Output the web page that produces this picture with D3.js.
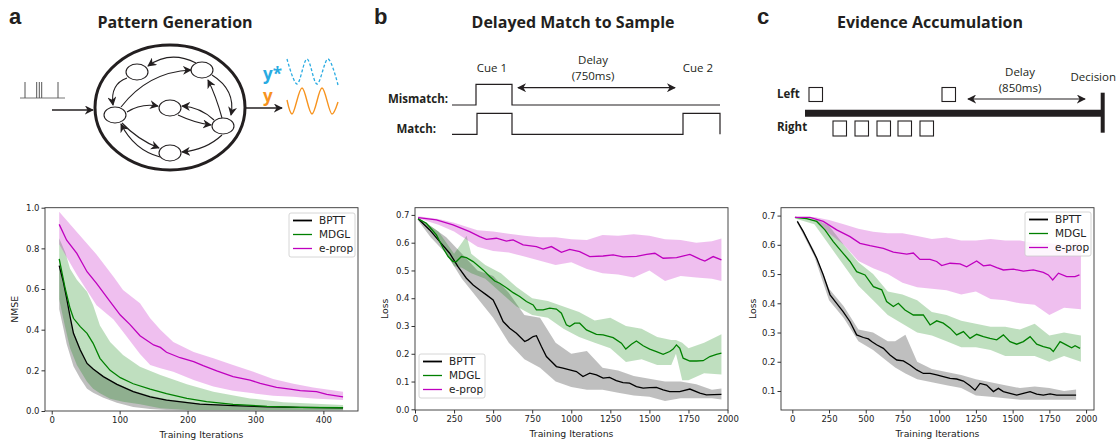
<!DOCTYPE html>
<html>
<head>
<meta charset="utf-8">
<script src="https://cdn.jsdelivr.net/npm/d3@7"></script>
<style>
  body { margin: 0; background: #fff; }
  svg { display: block; }
  .tick text { font-family: "DejaVu Sans", sans-serif; font-size: 8.5px; fill: #222; }
  .tick line { stroke: #333; }
  .lab { font-family: "DejaVu Sans", sans-serif; font-size: 9.3px; fill: #222; }
  .leg { font-family: "DejaVu Sans", sans-serif; font-size: 10.5px; fill: #222; }
  .ttl { font-family: "Open Sans", sans-serif; font-weight: 700; font-size: 16px; fill: #231f20; }
  .let { font-family: "Liberation Sans", sans-serif; font-weight: 700; font-size: 22px; fill: #231f20; }
  .sch { font-family: "Open Sans", sans-serif; font-size: 11.5px; fill: #231f20; }
  .schb { font-family: "Open Sans", sans-serif; font-weight: 700; font-size: 11.5px; fill: #231f20; }
</style>
</head>
<body>
<div id="container"></div>
<script>
//series names + colours
const names = ['BPTT', 'MDGL', 'e-prop']
const colors = ['#000000', '#008000', '#bf00bf']

//panel a: pattern generation (NMSE)
const aBptt = [[11,0.715],[17,0.636],[22,0.554],[27,0.464],[32,0.382],[42,0.30],[52,0.234],[61,0.207],[76,0.169],[96,0.131],[120,0.095],[145,0.07],[169,0.054],[218,0.034],[267,0.026],[317,0.021],[366,0.018],[429,0.015]]
const aMdgl = [[11,0.748],[20,0.60],[27,0.505],[32,0.456],[42,0.415],[52,0.382],[61,0.333],[71,0.259],[86,0.20],[101,0.164],[120,0.134],[145,0.108],[169,0.085],[199,0.062],[228,0.046],[267,0.033],[317,0.023],[366,0.018],[429,0.016]]
const aEprop = [[11,0.918],[22,0.84],[37,0.775],[52,0.685],[66,0.628],[86,0.538],[101,0.472],[115,0.426],[130,0.37],[150,0.325],[160,0.313],[169,0.289],[189,0.262],[209,0.243],[223,0.223],[243,0.197],[267,0.169],[292,0.152],[307,0.136],[331,0.116],[351,0.108],[366,0.10],[390,0.095],[405,0.082],[429,0.07]]
const aBpttBand = [[11,0.72,0.5],[17,0.64,0.41],[22,0.56,0.33],[32,0.39,0.22],[42,0.31,0.16],[52,0.24,0.11],[61,0.21,0.09],[76,0.17,0.065],[96,0.135,0.04],[120,0.1,0.02],[145,0.075,0.01],[169,0.058,0.005],[218,0.037,0.003],[267,0.028,0.003],[317,0.023,0.003],[366,0.02,0.003],[429,0.017,0.003]]
const aMdglBand = [[11,0.85,0.55],[20,0.78,0.41],[27,0.70,0.31],[37,0.645,0.226],[52,0.587,0.144],[61,0.52,0.11],[71,0.42,0.087],[86,0.34,0.06],[105,0.275,0.045],[130,0.218,0.033],[160,0.177,0.013],[199,0.131,0.005],[238,0.095,0.005],[292,0.062,0.005],[341,0.043,0.005],[429,0.03,0.005]]
const aEpropBand = [[11,0.98,0.82],[37,0.88,0.67],[66,0.77,0.52],[91,0.66,0.45],[105,0.595,0.39],[130,0.53,0.28],[145,0.456,0.226],[160,0.40,0.21],[179,0.34,0.193],[209,0.29,0.152],[238,0.26,0.12],[267,0.226,0.10],[297,0.193,0.087],[326,0.157,0.075],[356,0.134,0.07],[385,0.115,0.062],[429,0.095,0.054]]

//panel b: delayed match to sample (Loss)
const bBptt = [[20,0.686],[94,0.646],[158,0.604],[222,0.562],[275,0.514],[329,0.472],[372,0.448],[414,0.43],[457,0.412],[500,0.394],[531,0.358],[564,0.316],[606,0.292],[649,0.274],[702,0.244],[724,0.25],[756,0.262],[777,0.265],[809,0.226],[841,0.19],[873,0.172],[905,0.154],[947,0.148],[990,0.142],[1033,0.136],[1075,0.118],[1118,0.13],[1161,0.124],[1204,0.112],[1245,0.115],[1288,0.103],[1331,0.096],[1373,0.094],[1417,0.082],[1460,0.076],[1502,0.078],[1545,0.079],[1588,0.07],[1630,0.064],[1694,0.064],[1759,0.073],[1823,0.058],[1865,0.052],[1961,0.054]]
const bMdgl = [[20,0.686],[73,0.67],[137,0.628],[180,0.58],[212,0.55],[243,0.532],[265,0.532],[297,0.55],[329,0.546],[372,0.532],[436,0.502],[478,0.478],[510,0.462],[542,0.454],[585,0.438],[628,0.42],[670,0.406],[713,0.388],[756,0.376],[777,0.358],[820,0.358],[862,0.364],[905,0.361],[937,0.346],[969,0.304],[990,0.298],[1022,0.31],[1054,0.31],[1097,0.286],[1161,0.27],[1204,0.268],[1268,0.258],[1321,0.238],[1349,0.217],[1385,0.234],[1417,0.246],[1460,0.229],[1502,0.217],[1545,0.208],[1588,0.198],[1630,0.208],[1652,0.217],[1673,0.232],[1694,0.22],[1716,0.184],[1759,0.174],[1801,0.174],[1844,0.175],[1887,0.19],[1929,0.198],[1961,0.202]]
const bEprop = [[20,0.69],[137,0.682],[243,0.664],[350,0.64],[414,0.622],[457,0.612],[521,0.616],[585,0.606],[628,0.61],[692,0.592],[777,0.586],[820,0.577],[873,0.586],[937,0.565],[990,0.576],[1054,0.568],[1118,0.55],[1204,0.552],[1268,0.556],[1332,0.549],[1418,0.551],[1482,0.558],[1535,0.562],[1588,0.544],[1674,0.546],[1759,0.558],[1823,0.541],[1855,0.534],[1908,0.55],[1961,0.538]]
const bBpttBand = [[20,0.69,0.68],[100,0.66,0.62],[200,0.62,0.56],[300,0.56,0.47],[400,0.50,0.40],[500,0.48,0.33],[600,0.42,0.24],[700,0.34,0.18],[800,0.33,0.15],[900,0.24,0.10],[1000,0.20,0.08],[1100,0.21,0.07],[1200,0.15,0.07],[1300,0.14,0.06],[1400,0.12,0.05],[1500,0.11,0.045],[1600,0.10,0.03],[1700,0.10,0.04],[1800,0.09,0.04],[1900,0.07,0.04],[1961,0.075,0.035]]
const bMdglBand = [[20,0.69,0.685],[150,0.64,0.61],[250,0.56,0.515],[300,0.60,0.51],[330,0.625,0.50],[360,0.56,0.49],[450,0.52,0.47],[550,0.49,0.42],[650,0.44,0.37],[750,0.40,0.34],[850,0.39,0.33],[950,0.37,0.29],[1050,0.35,0.26],[1150,0.32,0.24],[1250,0.33,0.22],[1350,0.30,0.17],[1450,0.29,0.18],[1550,0.26,0.16],[1640,0.25,0.16],[1670,0.25,0.20],[1710,0.24,0.105],[1750,0.22,0.105],[1850,0.24,0.13],[1961,0.27,0.125]]
const bEpropBand = [[20,0.695,0.688],[150,0.685,0.665],[250,0.672,0.64],[400,0.645,0.585],[500,0.64,0.57],[600,0.632,0.565],[700,0.625,0.55],[800,0.62,0.535],[900,0.62,0.52],[1000,0.612,0.53],[1100,0.61,0.505],[1200,0.628,0.49],[1300,0.625,0.485],[1400,0.63,0.475],[1500,0.625,0.50],[1600,0.612,0.462],[1700,0.61,0.48],[1800,0.60,0.475],[1900,0.605,0.47],[1961,0.615,0.462]]

//panel c: evidence accumulation (Loss)
const cBptt = [[34,0.68],[75,0.645],[120,0.6],[166,0.554],[211,0.497],[257,0.429],[302,0.40],[347,0.371],[393,0.337],[438,0.292],[484,0.283],[518,0.278],[540,0.269],[574,0.258],[620,0.246],[665,0.223],[711,0.206],[756,0.203],[801,0.189],[847,0.172],[892,0.16],[938,0.16],[983,0.155],[1028,0.149],[1074,0.143],[1119,0.141],[1165,0.134],[1210,0.118],[1244,0.103],[1278,0.126],[1323,0.12],[1369,0.098],[1403,0.109],[1437,0.098],[1482,0.092],[1528,0.086],[1573,0.092],[1619,0.098],[1664,0.089],[1709,0.086],[1755,0.09],[1800,0.086],[1857,0.086],[1932,0.086]]
const cMdgl = [[18,0.694],[98,0.69],[166,0.68],[222,0.651],[279,0.611],[336,0.577],[393,0.543],[438,0.508],[495,0.497],[552,0.457],[609,0.446],[642,0.406],[688,0.389],[722,0.40],[767,0.377],[824,0.36],[892,0.36],[938,0.326],[983,0.34],[1028,0.332],[1074,0.315],[1119,0.292],[1165,0.303],[1210,0.28],[1255,0.294],[1301,0.286],[1346,0.28],[1392,0.275],[1437,0.292],[1482,0.269],[1528,0.26],[1573,0.269],[1619,0.286],[1664,0.26],[1709,0.252],[1755,0.246],[1777,0.235],[1823,0.269],[1868,0.257],[1902,0.248],[1925,0.255],[1959,0.246]]
const cEprop = [[18,0.694],[120,0.694],[211,0.68],[302,0.651],[393,0.628],[461,0.605],[529,0.597],[620,0.588],[688,0.575],[779,0.568],[824,0.572],[869,0.55],[938,0.55],[983,0.543],[1017,0.529],[1074,0.537],[1142,0.535],[1187,0.525],[1255,0.545],[1301,0.528],[1346,0.531],[1392,0.522],[1437,0.514],[1505,0.517],[1573,0.51],[1641,0.514],[1709,0.506],[1743,0.497],[1773,0.48],[1812,0.503],[1868,0.491],[1925,0.491],[1955,0.497]]
const cBpttBand = [[34,0.685,0.675],[150,0.58,0.56],[250,0.45,0.41],[350,0.39,0.35],[450,0.31,0.27],[550,0.30,0.24],[650,0.27,0.20],[700,0.27,0.18],[770,0.292,0.16],[850,0.20,0.14],[950,0.175,0.13],[1050,0.165,0.12],[1150,0.155,0.11],[1250,0.14,0.085],[1350,0.13,0.08],[1450,0.12,0.075],[1550,0.11,0.07],[1650,0.115,0.07],[1750,0.11,0.07],[1850,0.10,0.07],[1932,0.105,0.07]]
const cMdglBand = [[18,0.695,0.69],[150,0.69,0.67],[250,0.665,0.60],[350,0.60,0.53],[450,0.54,0.46],[550,0.50,0.41],[650,0.44,0.36],[750,0.43,0.33],[850,0.41,0.30],[950,0.37,0.29],[1050,0.36,0.27],[1150,0.34,0.25],[1250,0.33,0.25],[1350,0.32,0.24],[1450,0.32,0.22],[1550,0.31,0.22],[1650,0.33,0.22],[1750,0.29,0.20],[1850,0.30,0.22],[1965,0.29,0.20]]
const cEpropBand = [[18,0.695,0.692],[150,0.695,0.69],[250,0.685,0.64],[350,0.67,0.60],[450,0.655,0.545],[550,0.645,0.52],[650,0.64,0.50],[750,0.64,0.47],[850,0.63,0.455],[950,0.62,0.45],[1050,0.625,0.445],[1150,0.615,0.43],[1250,0.615,0.44],[1350,0.62,0.415],[1450,0.615,0.41],[1550,0.615,0.40],[1650,0.605,0.395],[1750,0.605,0.36],[1850,0.60,0.385],[1965,0.61,0.38]]

//ticks
const aXTicks = [0, 100, 200, 300, 400]
const aYTicks = [0, 0.2, 0.4, 0.6, 0.8, 1.0]
const bXTicks = [0, 250, 500, 750, 1000, 1250, 1500, 1750, 2000]
const bYTicks = [0, 0.1, 0.2, 0.3, 0.4, 0.5, 0.6, 0.7]
const cXTicks = [0, 250, 500, 750, 1000, 1250, 1500, 1750, 2000]
const cYTicks = [0.1, 0.2, 0.3, 0.4, 0.5, 0.6, 0.7]

const w = 1119
const h = 441

const svg = d3.select('#container')
    .append('svg')
    .attr('width', w)
    .attr('height', h)

const defs = svg.append('defs')
defs.append('marker')
    .attr('id', 'ah')
    .attr('viewBox', '0 0 10 10')
    .attr('refX', 9).attr('refY', 5)
    .attr('markerWidth', 9).attr('markerHeight', 9)
    .attr('markerUnits', 'userSpaceOnUse')
    .attr('orient', 'auto-start-reverse')
    .append('path')
    .attr('d', 'M0,0 L10,5 L0,10 L3,5 Z')
    .attr('fill', '#231f20')

function drawPanel(o) {
    const x = d3.scaleLinear().domain(o.xDom).range([o.left, o.right])
    const y = d3.scaleLinear().domain(o.yDom).range([o.bottom, o.top])
    const g = svg.append('g')

    const area = d3.area()
        .x(d => x(d[0]))
        .y0(d => y(d[2]))
        .y1(d => y(d[1]))
    const line = d3.line()
        .x(d => x(d[0]))
        .y(d => y(d[1]))

    o.bands.forEach((b, i) => {
        g.append('path')
            .attr('d', area(b))
            .attr('fill', i === 0 ? '#000' : colors[i])
            .attr('fill-opacity', 0.25)
    })
    o.lines.forEach((l, i) => {
        g.append('path')
            .attr('d', line(l))
            .attr('fill', 'none')
            .attr('stroke', colors[i])
            .attr('stroke-width', 1.3)
    })

    g.append('g')
        .attr('transform', 'translate(0,' + o.bottom + ')')
        .call(d3.axisBottom(x).tickValues(o.xTicks).tickSize(3.5).tickPadding(2).tickFormat(d3.format('d')))
        .call(s => s.select('.domain').remove())
    g.append('g')
        .attr('transform', 'translate(' + o.left + ',0)')
        .call(d3.axisLeft(y).tickValues(o.yTicks).tickSize(3.5).tickPadding(2).tickFormat(d3.format('.1f')))
        .call(s => s.select('.domain').remove())

    g.append('rect')
        .attr('x', o.left).attr('y', o.top)
        .attr('width', o.right - o.left).attr('height', o.bottom - o.top)
        .attr('fill', 'none').attr('stroke', '#333').attr('stroke-width', 0.9)

    g.append('text').attr('class', 'lab')
        .attr('x', (o.left + o.right) / 2).attr('y', o.bottom + 27)
        .attr('text-anchor', 'middle')
        .text('Training Iterations')
    g.append('text').attr('class', 'lab')
        .attr('transform', 'translate(' + o.yLabX + ',' + (o.top + o.bottom) / 2 + ') rotate(-90)')
        .attr('text-anchor', 'middle')
        .attr('dy', '0.35em')
        .text(o.yLab)

    //legend
    const lg = g.append('g').attr('transform', 'translate(' + o.legX + ',' + o.legY + ')')
    lg.append('rect')
        .attr('width', 66).attr('height', 44).attr('rx', 2)
        .attr('fill', '#fff').attr('fill-opacity', 0.85)
        .attr('stroke', '#ccc').attr('stroke-width', 0.8)
    names.forEach((n, i) => {
        lg.append('line')
            .attr('x1', 4).attr('x2', 23)
            .attr('y1', 7.5 + i * 14).attr('y2', 7.5 + i * 14)
            .attr('stroke', colors[i]).attr('stroke-width', i === 0 ? 1.8 : 1.3)
        lg.append('text').attr('class', 'leg')
            .attr('x', 30).attr('y', 7.5 + i * 14).attr('dy', '0.35em')
            .text(n)
    })
}

drawPanel({
    left: 45, right: 358, top: 207.7, bottom: 411,
    xDom: [-9.9, 451], yDom: [0, 1],
    xTicks: aXTicks, yTicks: aYTicks,
    bands: [aBpttBand, aMdglBand, aEpropBand],
    lines: [aBptt, aMdgl, aEprop],
    yLab: 'NMSE', yLabX: 15, legX: 289, legY: 213
})
drawPanel({
    left: 415, right: 728, top: 207.7, bottom: 410,
    xDom: [0, 2003], yDom: [-0.0025, 0.726],
    xTicks: bXTicks, yTicks: bYTicks,
    bands: [bBpttBand, bMdglBand, bEpropBand],
    lines: [bBptt, bMdgl, bEprop],
    yLab: 'Loss', yLabX: 385, legX: 419, legY: 354
})
drawPanel({
    left: 781, right: 1094, top: 207.7, bottom: 410,
    xDom: [-77, 2054], yDom: [0.035, 0.727],
    xTicks: cXTicks, yTicks: cYTicks,
    bands: [cBpttBand, cMdglBand, cEpropBand],
    lines: [cBptt, cMdgl, cEprop],
    yLab: 'Loss', yLabX: 753, legX: 1025, legY: 212
})

//---- schematics ----
const ink = '#231f20'

//panel letters and titles
svg.append('text').attr('class', 'let').attr('x', 9).attr('y', 24).text('a')
svg.append('text').attr('class', 'let').attr('x', 374).attr('y', 24).text('b')
svg.append('text').attr('class', 'let').attr('x', 757).attr('y', 24).text('c')
svg.append('text').attr('class', 'ttl').attr('x', 175).attr('y', 28).attr('text-anchor', 'middle').text('Pattern Generation')
svg.append('text').attr('class', 'ttl').attr('x', 573).attr('y', 28).attr('text-anchor', 'middle').text('Delayed Match to Sample')
svg.append('text').attr('class', 'ttl').attr('x', 930).attr('y', 28).attr('text-anchor', 'middle').text('Evidence Accumulation')

//a: spike train
const spikes = [25, 36.7, 39.3, 41.7, 58]
svg.append('line').attr('x1', 20).attr('x2', 65).attr('y1', 98).attr('y2', 98).attr('stroke', '#777').attr('stroke-width', 1.2)
spikes.forEach(s => {
    svg.append('line').attr('x1', s).attr('x2', s).attr('y1', 82).attr('y2', 98).attr('stroke', '#555').attr('stroke-width', 1)
})
//in/out arrows
svg.append('line').attr('x1', 52).attr('y1', 110).attr('x2', 93).attr('y2', 110).attr('stroke', ink).attr('stroke-width', 1.3).attr('marker-end', 'url(#ah)')
svg.append('line').attr('x1', 245).attr('y1', 108).attr('x2', 282).attr('y2', 108).attr('stroke', ink).attr('stroke-width', 1.3).attr('marker-end', 'url(#ah)')
//network
svg.append('ellipse').attr('cx', 170).attr('cy', 107.5).attr('rx', 75).attr('ry', 62.5).attr('fill', 'none').attr('stroke', ink).attr('stroke-width', 3)
const nodes = [[137, 72], [202, 70], [115, 115], [170, 108], [223, 126], [170, 153]]
nodes.forEach(n => {
    svg.append('ellipse').attr('cx', n[0]).attr('cy', n[1]).attr('rx', 11).attr('ry', 8).attr('fill', '#fff').attr('stroke', ink).attr('stroke-width', 1.1)
})
const links = [
    [196, 63, 170, 50, 148, 66],
    [121, 107, 148, 72, 191, 70],
    [127, 78, 110, 84, 113, 105],
    [127, 112, 141, 103, 158, 106],
    [214, 120, 200, 107, 182, 106],
    [178, 115, 195, 123, 211, 125],
    [222, 118, 216, 96, 208, 80],
    [212, 75, 236, 90, 231, 115],
    [122, 123, 138, 140, 159, 148],
    [160, 157, 134, 150, 121, 124],
    [222, 135, 206, 150, 182, 152]
]
links.forEach(l => {
    svg.append('path')
        .attr('d', 'M' + l[0] + ',' + l[1] + ' Q' + l[2] + ',' + l[3] + ' ' + l[4] + ',' + l[5])
        .attr('fill', 'none').attr('stroke', ink).attr('stroke-width', 1.1)
        .attr('marker-end', 'url(#ah)')
})
//target / output waves (peaks and troughs of the icon)
const waveTarget = [[287, 59], [297, 84], [307, 59], [317, 84], [328, 59], [338, 85]]
const waveOut = [[287, 100], [292, 114], [302, 88], [312, 114], [322, 88], [332, 114], [338, 102]]
const wave = d3.line().curve(d3.curveCatmullRom)
svg.append('path').attr('d', wave(waveTarget)).attr('fill', 'none').attr('stroke', '#29abe2').attr('stroke-width', 1.3).attr('stroke-dasharray', '3,2')
svg.append('path').attr('d', wave(waveOut)).attr('fill', 'none').attr('stroke', '#f7931e').attr('stroke-width', 1.4)
svg.append('text').attr('x', 263).attr('y', 80).attr('font-family', 'Open Sans, sans-serif').attr('font-weight', 700).attr('font-size', 17).attr('fill', '#29abe2').text('y*')
svg.append('text').attr('x', 263).attr('y', 102).attr('font-family', 'Open Sans, sans-serif').attr('font-weight', 700).attr('font-size', 17).attr('fill', '#f7931e').text('y')

//b: cue traces
const mismatchPts = [[452, 105], [476, 105], [476, 84.3], [512, 84.3], [512, 105], [720, 105]]
const matchPts = [[452, 134.3], [477, 134.3], [477, 113.3], [512, 113.3], [512, 134.3], [683, 134.3], [683, 113.3], [720, 113.3], [720, 134.3]]
const step = d3.line()
svg.append('path').attr('d', step(mismatchPts)).attr('fill', 'none').attr('stroke', ink).attr('stroke-width', 1.2)
svg.append('path').attr('d', step(matchPts)).attr('fill', 'none').attr('stroke', ink).attr('stroke-width', 1.2)
svg.append('text').attr('class', 'schb').attr('x', 448).attr('y', 103).attr('text-anchor', 'end').text('Mismatch:')
svg.append('text').attr('class', 'schb').attr('x', 436).attr('y', 133).attr('text-anchor', 'end').text('Match:')
svg.append('text').attr('class', 'sch').attr('x', 492).attr('y', 72).attr('text-anchor', 'middle').text('Cue 1')
svg.append('text').attr('class', 'sch').attr('x', 698).attr('y', 72).attr('text-anchor', 'middle').text('Cue 2')
svg.append('text').attr('class', 'sch').attr('x', 593).attr('y', 64).attr('text-anchor', 'middle').text('Delay')
svg.append('text').attr('class', 'sch').attr('x', 593).attr('y', 80).attr('text-anchor', 'middle').text('(750ms)')
svg.append('line').attr('x1', 518).attr('x2', 675).attr('y1', 87.7).attr('y2', 87.7).attr('stroke', ink).attr('stroke-width', 1.2)
    .attr('marker-start', 'url(#ah)').attr('marker-end', 'url(#ah)')

//c: evidence cues
svg.append('line').attr('x1', 805).attr('x2', 1103).attr('y1', 113.3).attr('y2', 113.3).attr('stroke', ink).attr('stroke-width', 7)
svg.append('line').attr('x1', 1102.7).attr('x2', 1102.7).attr('y1', 92.7).attr('y2', 132.7).attr('stroke', ink).attr('stroke-width', 4)
const leftCues = [809, 942]
const rightCues = [833, 855, 877, 898, 920]
leftCues.forEach(c => {
    svg.append('rect').attr('x', c).attr('y', 87.5).attr('width', 13.5).attr('height', 14).attr('fill', '#fff').attr('stroke', ink).attr('stroke-width', 1.1)
})
rightCues.forEach(c => {
    svg.append('rect').attr('x', c).attr('y', 121).attr('width', 13.5).attr('height', 15).attr('fill', '#fff').attr('stroke', ink).attr('stroke-width', 1.1)
})
svg.append('text').attr('class', 'schb').attr('x', 777).attr('y', 98).text('Left')
svg.append('text').attr('class', 'schb').attr('x', 777).attr('y', 131).text('Right')
svg.append('text').attr('class', 'sch').attr('x', 1020).attr('y', 76).attr('text-anchor', 'middle').text('Delay')
svg.append('text').attr('class', 'sch').attr('x', 1020).attr('y', 92).attr('text-anchor', 'middle').text('(850ms)')
svg.append('text').attr('class', 'sch').attr('x', 1116).attr('y', 81).attr('text-anchor', 'end').attr('font-size', 11).text('Decision')
svg.append('line').attr('x1', 968).attr('x2', 1085).attr('y1', 99).attr('y2', 99).attr('stroke', ink).attr('stroke-width', 1.2)
    .attr('marker-start', 'url(#ah)').attr('marker-end', 'url(#ah)')
</script>
</body>
</html>
